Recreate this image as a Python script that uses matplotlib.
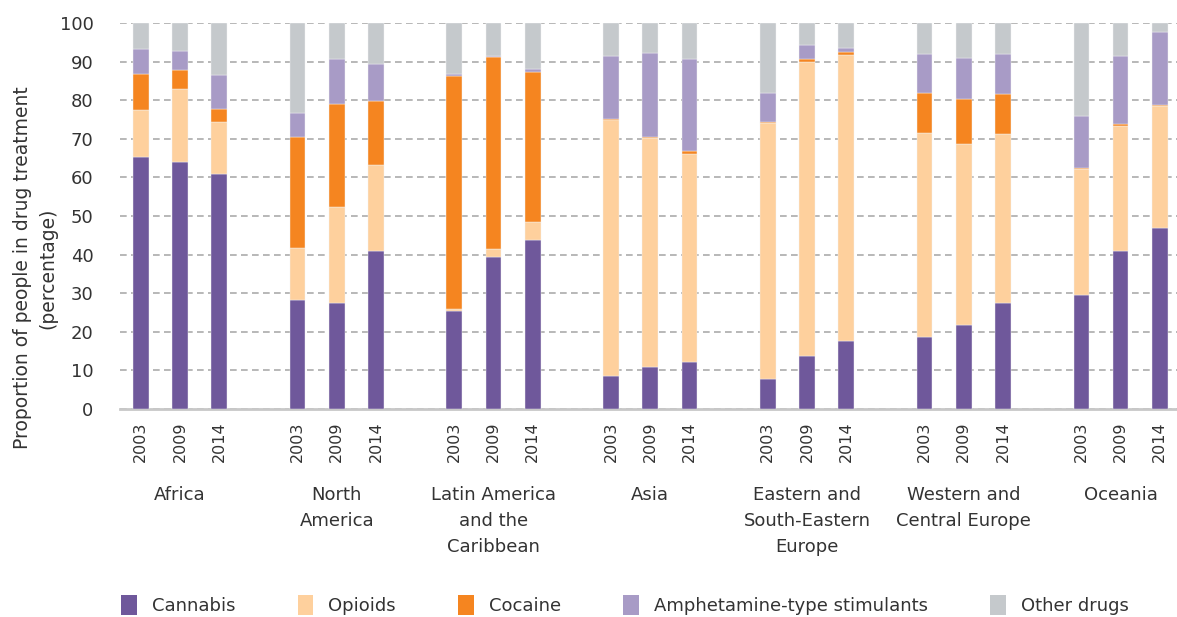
import matplotlib
matplotlib.use("Agg")
import matplotlib.pyplot as plt
import numpy as np

regions = ["Africa", "North\nAmerica", "Latin America\nand the\nCaribbean", "Asia",
           "Eastern and\nSouth-Eastern\nEurope", "Western and\nCentral Europe", "Oceania"]
years = ["2003", "2009", "2014"]
series = ["Cannabis", "Opioids", "Cocaine", "Amphetamine-type stimulants", "Other drugs"]
colors = ["#6F589B", "#FED09D", "#F58520", "#A89BC6", "#C5C9CC"]

# cumulative tops (cannabis, +opioids, +cocaine, +ATS), per region x year
cannabis_top = [65.4, 64.0, 61.0, 28.2, 27.5, 41.0, 25.5, 39.5, 43.8, 8.5, 11.0, 12.1,
                7.8, 13.8, 17.5, 18.6, 21.8, 27.5, 29.6, 40.9, 46.9]
opioids_top = [77.4, 82.8, 74.4, 41.8, 52.3, 63.2, 25.9, 41.5, 48.4, 75.0, 70.3, 66.1,
               74.0, 89.9, 91.8, 71.5, 68.7, 71.3, 62.2, 73.4, 78.5]
cocaine_top = [86.9, 87.7, 77.8, 70.4, 78.9, 79.9, 86.2, 91.2, 87.3, 75.1, 70.5, 66.8,
               74.4, 90.7, 92.6, 81.8, 80.2, 81.7, 62.5, 73.8, 78.7]
ats_top = [93.3, 92.8, 86.5, 76.7, 90.7, 89.5, 86.8, 91.5, 88.0, 91.5, 92.3, 90.7,
           81.9, 94.4, 93.6, 92.0, 91.0, 92.0, 75.9, 91.5, 97.7]
total = [100.0] * 21

tops = np.array([cannabis_top, opioids_top, cocaine_top, ats_top, total])
bottoms = np.vstack([np.zeros(21), tops[:-1]])
values = tops - bottoms

fig = plt.figure(figsize=(11.77, 6.17), dpi=100)
ax = fig.add_axes([120/1177, 1-409/617, 1-120/1177, (409-23)/617])

xpos = np.array([g*4 + j for g in range(len(regions)) for j in range(3)], dtype=float)
for i, name in enumerate(series):
    ax.bar(xpos, values[i], bottom=bottoms[i], width=0.4, color=colors[i],
           edgecolor="#F4F4F4", linewidth=0.3, label=name, zorder=3)

ax.set_xlim(-0.53, 26.44)
ax.set_ylim(0, 100)
ax.set_yticks(range(0, 101, 10))
ax.yaxis.grid(True, linestyle=(0, (4, 2.6)), color="#ABABAB", linewidth=1.2, zorder=0)
ax.set_axisbelow(True)
for s in ["left", "right", "top"]:
    ax.spines[s].set_visible(False)
ax.spines["bottom"].set_color("#C8C8C8")
ax.spines["bottom"].set_linewidth(2)
ax.tick_params(axis="y", length=0, pad=19, labelsize=13, labelcolor="#333333")
ax.tick_params(axis="x", length=0, pad=9, labelsize=11.5, labelcolor="#333333")
ax.set_xticks(xpos)
ax.set_xticklabels(years * len(regions), rotation=90, va="top", ha="center")

for g, r in enumerate(regions):
    ax.text(g*4 + 1, -0.2, r, transform=ax.get_xaxis_transform(), ha="center", va="top",
            fontsize=13, color="#333333", linespacing=1.58, multialignment="center")

fig.text(35/1177, 1-268/617, "Proportion of people in drug treatment\n(percentage)",
         rotation=90, ha="center", va="center", fontsize=13.5, color="#333333",
         multialignment="center", linespacing=1.45)

handles, labels = ax.get_legend_handles_labels()
leg = fig.legend(handles, labels, loc="center left", bbox_to_anchor=(105/1177, 1-605/617),
                 ncol=5, frameon=False, fontsize=13, handlelength=0.85, handleheight=1.4,
                 handletextpad=0.85, columnspacing=3.45, labelcolor="#333333")
for h in leg.legend_handles:
    h.set_edgecolor("none")

fig.savefig("out.png", dpi=100)
